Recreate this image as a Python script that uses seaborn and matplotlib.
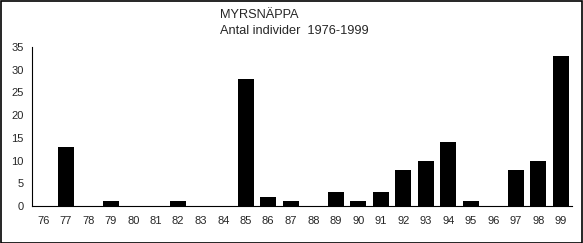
import matplotlib
matplotlib.use("Agg")
import matplotlib.pyplot as plt
import seaborn as sns
import numpy as np
from matplotlib.patches import Rectangle

years = ["76", "77", "78", "79", "80", "81", "82", "83", "84", "85", "86", "87",
         "88", "89", "90", "91", "92", "93", "94", "95", "96", "97", "98", "99"]
counts = [0, 13, 0, 1, 0, 0, 1, 0, 0, 28, 2, 1, 0, 3, 1, 3, 8, 10, 14, 1, 0, 8, 10, 33]
title_lines = ["MYRSNÄPPA", "Antal individer  1976-1999"]
yticks = [0, 5, 10, 15, 20, 25, 30, 35]

sns.set_style("white")
plt.rcParams['font.family'] = ['Liberation Sans', 'DejaVu Sans']

fig = plt.figure(figsize=(5.83, 2.43), dpi=100)
fig.patch.set_facecolor("white")
ax = fig.add_axes([32/583, 1-206/243, 540/583, 159/243])

sns.barplot(x=years, y=counts, color="black", saturation=1, width=0.71,
            edgecolor="black", linewidth=0, ax=ax)

ax.set_xlim(-0.5, len(years) - 0.5)
ax.set_ylim(0, 35)
ax.set_yticks(yticks)
ax.set_yticklabels([str(v) for v in yticks], fontsize=8)
ax.tick_params(axis='y', direction='out', length=4, width=0.8, color='black', pad=2)
ax.set_xticks(range(len(years)))
ax.set_xticklabels(years, fontsize=8)
ax.tick_params(axis='x', which='major', length=0, pad=7)
ax.set_xticks(np.arange(-0.5, len(years), 1.0), minor=True)
ax.tick_params(axis='x', which='minor', direction='out', length=4, width=0.8, color='black')
for s in ['top', 'right']:
    ax.spines[s].set_visible(False)
for s in ['left', 'bottom']:
    ax.spines[s].set_color('black')
    ax.spines[s].set_linewidth(0.8)
ax.set_xlabel("")
ax.set_ylabel("")
ax.grid(False)

fig.text(220/583, 1-15/243, title_lines[0], fontsize=9.2, va='center', ha='left')
fig.text(220/583, 1-31/243, title_lines[1], fontsize=9.2, va='center', ha='left')

fig.patches.append(Rectangle((0.5/583, 0.5/243), 1-1.5/583, 1-1.5/243, transform=fig.transFigure,
                             fill=False, edgecolor='black', linewidth=1.2))

fig.savefig("out.png", dpi=100)
